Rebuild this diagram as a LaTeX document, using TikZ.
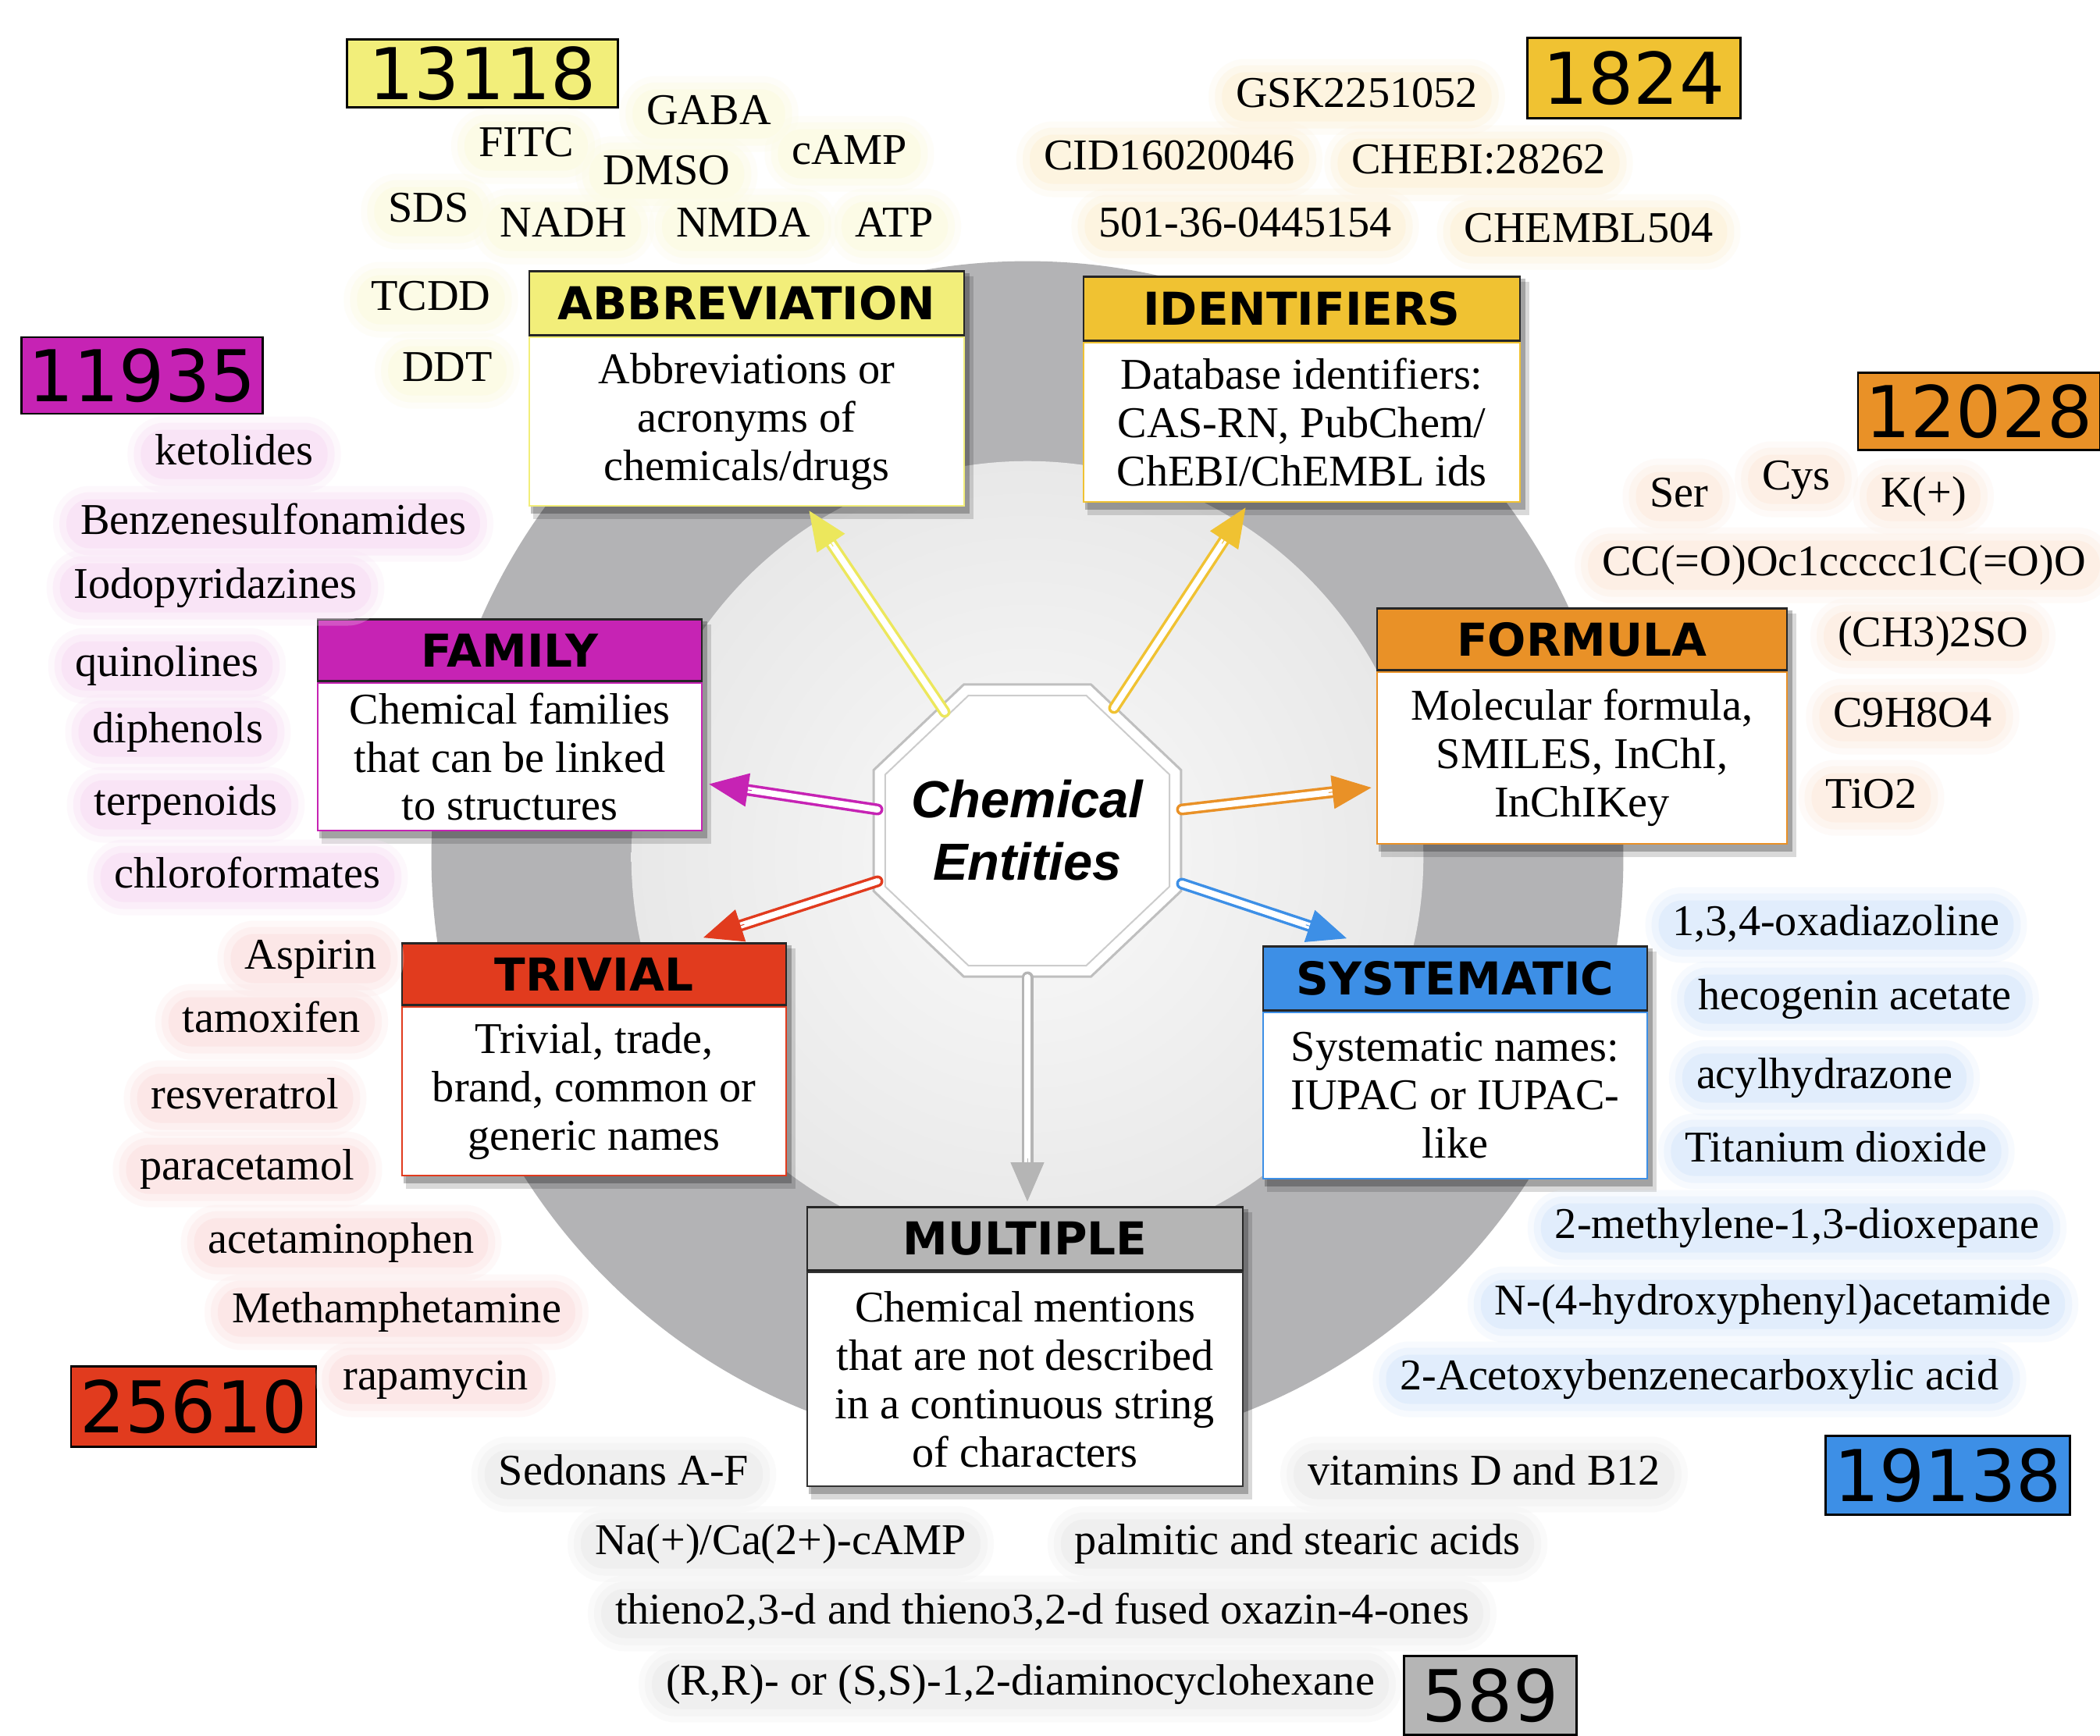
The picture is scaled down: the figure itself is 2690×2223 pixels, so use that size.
\documentclass[tikz,border=0pt]{standalone}
\usepackage{fontspec}
\setmainfont{Liberation Serif}
\newfontfamily\hdrfont{DejaVu Sans}
\newfontfamily\ceFont{Liberation Sans}
\usetikzlibrary{shapes.geometric,arrows.meta,calc,backgrounds}
\definecolor{cYel}{HTML}{F2EE7A}
\definecolor{cYelA}{HTML}{ECE75C}
\definecolor{cGold}{HTML}{F0C232}
\definecolor{cMag}{HTML}{C623B4}
\definecolor{cOra}{HTML}{E99127}
\definecolor{cRed}{HTML}{E13B1E}
\definecolor{cBlu}{HTML}{3D8FE6}
\definecolor{cGry}{HTML}{B5B5B5}
\definecolor{cRing}{HTML}{B3B3B5}
\definecolor{gY}{HTML}{FCFBE6}
\definecolor{gG}{HTML}{FDF4E0}
\definecolor{gO}{HTML}{FDEFE5}
\definecolor{gM}{HTML}{F9E4F6}
\definecolor{gR}{HTML}{FCE7E7}
\definecolor{gB}{HTML}{E1EDFC}
\definecolor{gK}{HTML}{EFEFEF}
\newcommand\chemArrow[3]{%
  \draw[#1, line width=0.035cm, double=white, double distance=0.08cm, line cap=round, shorten >=0.4cm] (#2) -- (#3);
  \draw[#1, line width=0.01cm, -{Triangle[length=0.5cm, width=0.43cm]}] ($(#3)!0.55cm!(#2)$) -- (#3);
}
\tikzset{
  lbl/.style={font=\fontsize{16}{18}\selectfont, text height=11pt, text depth=3.5pt,
    inner xsep=0.18cm, inner ysep=0.06cm, rounded corners=0.3cm, fill=#1,
    preaction={draw=#1, line width=0.34cm, draw opacity=0.25},
    preaction={draw=#1, line width=0.18cm, draw opacity=0.45}},
  numbox/.style={draw=black, line width=0.025cm, fill=#1, font=\hdrfont\fontsize{26}{28}\selectfont, inner sep=0},
  hdrbox/.style={draw=black!85, line width=0.025cm, fill=#1, font=\hdrfont\bfseries\fontsize{16.5}{18}\selectfont, anchor=south, inner sep=0},
  bodybox/.style={draw=#1, line width=0.025cm, fill=white, align=center, font=\fontsize{16}{17.6}\selectfont, inner sep=0},
}
\begin{document}
\begin{tikzpicture}[x=0.01cm, y=-0.01cm]
\useasboundingbox (0,0) rectangle (2690,2223);

% ---------- category boxes ----------
\node[bodybox=cYel, minimum width=5.57cm, minimum height=2.16cm] (abbr) at (956.5,540) {Abbreviations or\\acronyms of\\chemicals/drugs};
\node[hdrbox=cYel, minimum width=5.57cm, minimum height=0.82cm] (abbrH) at (abbr.north) {ABBREVIATION};

\node[bodybox=cGold, minimum width=5.59cm, minimum height=2.04cm] (ident) at (1667.5,541) {Database identifiers:\\CAS-RN, PubChem/\\ChEBI/ChEMBL ids};
\node[hdrbox=cGold, minimum width=5.59cm, minimum height=0.82cm] (identH) at (ident.north) {IDENTIFIERS};

\node[bodybox=cMag, minimum width=4.92cm, minimum height=1.89cm] (fam) at (653,969.5) {Chemical families\\that can be linked\\to structures};
\node[hdrbox=cMag, minimum width=4.92cm, minimum height=0.79cm] (famH) at (fam.north) {FAMILY};

\node[bodybox=cOra, minimum width=5.25cm, minimum height=2.20cm] (form) at (2026.5,971) {Molecular formula,\\SMILES, InChI,\\InChIKey};
\node[hdrbox=cOra, minimum width=5.25cm, minimum height=0.79cm] (formH) at (form.north) {FORMULA};

\node[bodybox=cRed, minimum width=4.92cm, minimum height=2.16cm] (triv) at (761,1398) {Trivial, trade,\\brand, common or\\generic names};
\node[hdrbox=cRed, minimum width=4.92cm, minimum height=0.79cm] (trivH) at (triv.north) {TRIVIAL};

\node[bodybox=cBlu, minimum width=4.92cm, minimum height=2.13cm] (syst) at (1864,1403.5) {Systematic names:\\IUPAC or IUPAC-\\like};
\node[hdrbox=cBlu, minimum width=4.92cm, minimum height=0.82cm] (systH) at (syst.north) {SYSTEMATIC};

\node[bodybox=black!80, minimum width=5.58cm, minimum height=2.74cm] (mult) at (1313,1767) {Chemical mentions\\that are not described\\in a continuous string\\of characters};
\node[hdrbox=cGry, minimum width=5.58cm, minimum height=0.81cm] (multH) at (mult.north) {MULTIPLE};

% ---------- central octagon ----------
\begin{scope}[shift={(1316,1064)}, yscale=0.95]
\node[regular polygon, regular polygon sides=8, minimum size=4.26cm, draw=black!25, line width=0.03cm, fill=white, inner sep=0, transform shape] (ce) at (0,0) {};
\node[regular polygon, regular polygon sides=8, minimum size=3.94cm, draw=black!20, line width=0.02cm, inner sep=0, transform shape] (ceIn) at (0,0) {};
\end{scope}
\node[font=\ceFont\bfseries\itshape\fontsize{19}{22.7}\selectfont, align=center] (ceT) at (ce.center) {Chemical\\Entities};

% ---------- arrows ----------
\coordinate (aS) at ($(ce.center)+(-106,-152)$);
\coordinate (aE) at ($(abbr.south)+(80,5)$);
\coordinate (iS) at ($(ce.center)+(111,-157)$);
\coordinate (iE) at ($(ident.south)+(-72,6)$);
\coordinate (fS) at ($(ce.center)+(-192,-27)$);
\coordinate (fE) at ($(fam.east)+(8,35)$);
\coordinate (oS) at ($(ce.center)+(198,-27)$);
\coordinate (oE) at ($(form.west)+(-6,38)$);
\coordinate (tS) at ($(ce.center)+(-192,65)$);
\coordinate (tE) at ($(trivH.north)+(140,-6)$);
\coordinate (sS) at ($(ce.center)+(198,68)$);
\coordinate (sE) at ($(systH.north)+(-139,-9)$);
\coordinate (mS) at ($(ce.center)+(0,188)$);
\coordinate (mE) at ($(multH.north)+(3,-6)$);
\chemArrow{cYelA}{aS}{aE}
\chemArrow{cGold}{iS}{iE}
\chemArrow{cMag}{fS}{fE}
\chemArrow{cOra}{oS}{oE}
\chemArrow{cRed}{tS}{tE}
\chemArrow{cBlu}{sS}{sE}
\chemArrow{cGry}{mS}{mE}

% ---------- count boxes ----------
\node[numbox=cYel, minimum width=3.47cm, minimum height=0.87cm] (n1) at (618,94) {13118};
\node[numbox=cGold, minimum width=2.73cm, minimum height=1.03cm] (n2) at (2093,100) {1824};
\node[numbox=cMag, minimum width=3.09cm, minimum height=0.98cm] (n3) at (182,481) {11935};
\node[numbox=cOra, minimum width=3.10cm, minimum height=0.99cm] (n4) at (2535,527) {12028};
\node[numbox=cRed, minimum width=3.14cm, minimum height=1.03cm] (n5) at (248,1802) {25610};
\node[numbox=cBlu, minimum width=3.13cm, minimum height=1.01cm] (n6) at (2495,1890) {19138};
\node[numbox=cGry, minimum width=2.21cm, minimum height=1.01cm] (n7) at (1909,2172) {589};

% ---------- abbreviation examples ----------
\node[lbl=gY] (y1) at (908,146) {GABA};
\node[lbl=gY] (y2) at (674,187) {FITC};
\node[lbl=gY] (y3) at (854,223) {DMSO};
\node[lbl=gY] (y4) at (1088,197) {cAMP};
\node[lbl=gY] (y5) at (549,271) {SDS};
\node[lbl=gY] (y6) at (722,290) {NADH};
\node[lbl=gY] (y7) at (952,290) {NMDA};
\node[lbl=gY] (y8) at (1146,290) {ATP};
\node[lbl=gY] (y9) at (552,384) {TCDD};
\node[lbl=gY] (y10) at (573,475) {DDT};

% ---------- identifier examples ----------
\node[lbl=gG] (g1) at (1738,124) {GSK2251052};
\node[lbl=gG] (g2) at (1498,204) {CID16020046};
\node[lbl=gG] (g3) at (1894,209) {CHEBI:28262};
\node[lbl=gG] (g4) at (1595,290) {501-36-0445154};
\node[lbl=gG] (g5) at (2035,297) {CHEMBL504};

% ---------- formula examples ----------
\node[lbl=gO] (o1) at (2151,636) {Ser};
\node[lbl=gO] (o2) at (2301,614) {Cys};
\node[lbl=gO] (o3) at (2464,636) {K(+)};
\node[lbl=gO] (o4) at (2362,724) {CC(=O)Oc1ccccc1C(=O)O};
\node[lbl=gO] (o5) at (2476,815) {(CH3)2SO};
\node[lbl=gO] (o6) at (2450,918) {C9H8O4};
\node[lbl=gO] (o7) at (2397,1022) {TiO2};

% ---------- family examples ----------
\node[lbl=gM] (m1) at (300,582) {ketolides};
\node[lbl=gM] (m2) at (350,671) {Benzenesulfonamides};
\node[lbl=gM] (m3) at (276,753) {Iodopyridazines};
\node[lbl=gM] (m4) at (214,853) {quinolines};
\node[lbl=gM] (m5) at (228,938) {diphenols};
\node[lbl=gM] (m6) at (238,1031) {terpenoids};
\node[lbl=gM] (m7) at (317,1124) {chloroformates};

% ---------- trivial examples ----------
\node[lbl=gR] (r1) at (398,1228) {Aspirin};
\node[lbl=gR] (r2) at (348,1309) {tamoxifen};
\node[lbl=gR] (r3) at (314,1407) {resveratrol};
\node[lbl=gR] (r4) at (317,1498) {paracetamol};
\node[lbl=gR] (r5) at (437,1592) {acetaminophen};
\node[lbl=gR] (r6) at (508,1681) {Methamphetamine};
\node[lbl=gR] (r7) at (558,1767) {rapamycin};

% ---------- systematic examples ----------
\node[lbl=gB] (b1) at (2352,1185) {1,3,4-oxadiazoline};
\node[lbl=gB] (b2) at (2376,1280) {hecogenin acetate};
\node[lbl=gB] (b3) at (2337,1381) {acylhydrazone};
\node[lbl=gB] (b4) at (2352,1475) {Titanium dioxide};
\node[lbl=gB] (b5) at (2302,1573) {2-methylene-1,3-dioxepane};
\node[lbl=gB] (b6) at (2271,1671) {N-(4-hydroxyphenyl)acetamide};
\node[lbl=gB] (b7) at (2177,1767) {2-Acetoxybenzenecarboxylic acid};

% ---------- multiple examples ----------
\node[lbl=gK] (k1) at (799,1889) {Sedonans A-F};
\node[lbl=gK] (k2) at (1901,1889) {vitamins D and B12};
\node[lbl=gK] (k3) at (1000,1978) {Na(+)/Ca(2+)-cAMP};
\node[lbl=gK] (k4) at (1662,1978) {palmitic and stearic acids};
\node[lbl=gK] (k5) at (1335,2067) {thieno2,3-d and thieno3,2-d fused oxazin-4-ones};
\node[lbl=gK] (k6) at (1307,2158) {(R,R)- or (S,S)-1,2-diaminocyclohexane};

% ---------- background: ring and shadows ----------
\begin{scope}[on background layer]
\fill[white] (0,0) rectangle (2690,2223);
\fill[cRing] (1316,1098) circle[radius=7.63cm];
\shade[inner color=black!2, outer color=black!9] (1316,1098) circle[radius=5.07cm];
\foreach \h/\b in {abbrH/abbr, identH/ident, famH/fam, formH/form, trivH/triv, systH/syst, multH/mult}{
  \fill[black, opacity=0.15] ($(\h.north west)+(6,8)$) rectangle ($(\b.south east)+(11,16)$);
  \fill[black, opacity=0.25] ($(\h.north west)+(3,4)$) rectangle ($(\b.south east)+(6,9)$);
}
\end{scope}
\end{tikzpicture}
\end{document}
